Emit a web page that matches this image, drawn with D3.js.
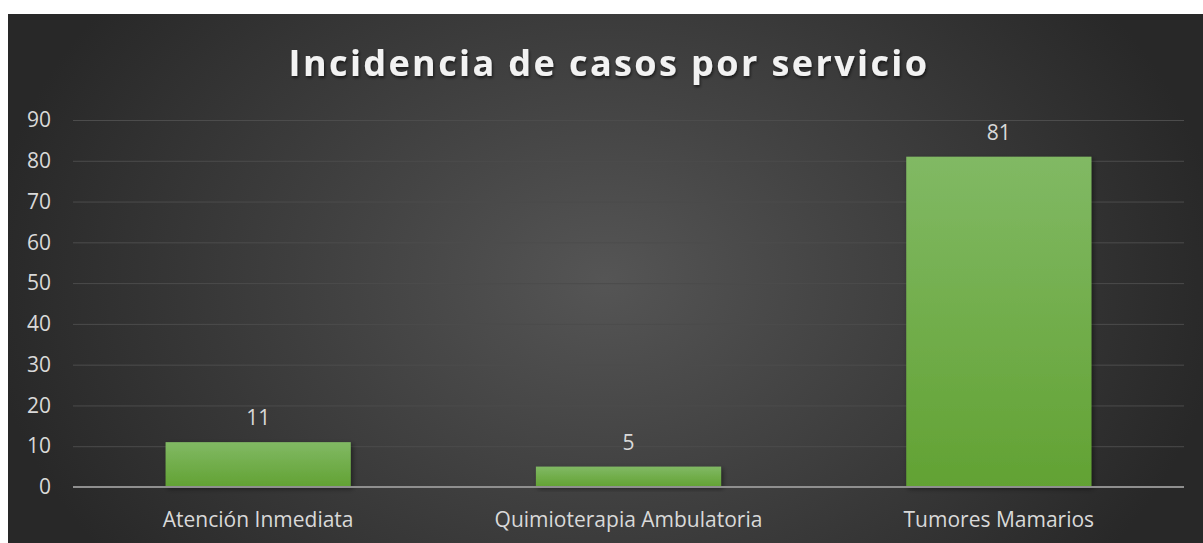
<!DOCTYPE html>
<html><head><meta charset="utf-8">
<script src="https://cdn.jsdelivr.net/npm/d3@7/dist/d3.min.js"></script>
<style>body{margin:0;background:#fff;}svg{display:block;}</style>
</head><body>
<svg id="c" width="1203" height="543"></svg>
<script>
const categories = ["Atención Inmediata", "Quimioterapia Ambulatoria", "Tumores Mamarios"];
const values = [11, 5, 81];
const yTicks = [0, 10, 20, 30, 40, 50, 60, 70, 80, 90];
const title = "Incidencia de casos por servicio";

(function(){
const svg = d3.select("#c");
const defs = svg.append("defs");
const bg = defs.append("radialGradient").attr("id","bg").attr("gradientUnits","userSpaceOnUse")
  .attr("cx",605).attr("cy",280).attr("r",620).attr("gradientTransform","translate(605,280) scale(1,0.75) translate(-605,-280)");
bg.append("stop").attr("offset","0%").attr("stop-color","#555555");
bg.append("stop").attr("offset","100%").attr("stop-color","#282828");
const bar = defs.append("linearGradient").attr("id","bar").attr("x1",0).attr("y1",0).attr("x2",0).attr("y2",1);
bar.append("stop").attr("offset","0%").attr("stop-color","#81b964");
bar.append("stop").attr("offset","100%").attr("stop-color","#62a233");
const sh = defs.append("filter").attr("id","sh").attr("x","-20%").attr("y","-20%").attr("width","140%").attr("height","140%");
sh.append("feDropShadow").attr("dx",2).attr("dy",2).attr("stdDeviation",2.5).attr("flood-color","#000").attr("flood-opacity",0.45);
const tsh = defs.append("filter").attr("id","tsh").attr("x","-10%").attr("y","-30%").attr("width","120%").attr("height","160%");
tsh.append("feDropShadow").attr("dx",1).attr("dy",2).attr("stdDeviation",1.5).attr("flood-color","#000").attr("flood-opacity",0.6);

svg.append("rect").attr("x",8).attr("y",14).attr("width",1195).attr("height",529).attr("fill","url(#bg)");

const pL = 73, pR = 1184, pT = 120, pB = 487;
const x = d3.scaleBand().domain(categories).range([pL,pR]).paddingInner(0.5).paddingOuter(0.25);
const y = d3.scaleLinear().domain([0,90]).range([pB,pT]);

const font = "'Open Sans', sans-serif";
const fs = "21px";

svg.append("g").selectAll("line").data(yTicks.filter(d=>d>0)).join("line")
  .attr("x1",pL).attr("x2",pR).attr("y1",d=>y(d)+0.5).attr("y2",d=>y(d)+0.5)
  .attr("stroke","#4c4c4c").attr("stroke-width",1);

const ya = svg.append("g").attr("transform",`translate(${pL-22},0)`)
  .call(d3.axisLeft(y).tickValues(yTicks).tickSize(0).tickPadding(0));
ya.select(".domain").remove();
ya.selectAll("text").attr("fill","#d9d9d9").style("font-family",font).style("font-size",fs);

svg.append("g").selectAll("rect").data(values).join("rect")
  .attr("x",(d,i)=>x(categories[i])).attr("width",x.bandwidth())
  .attr("y",d=>y(d)).attr("height",d=>pB-y(d))
  .attr("fill","url(#bar)").attr("filter","url(#sh)");

svg.append("line").attr("x1",pL).attr("x2",pR).attr("y1",pB).attr("y2",pB)
  .attr("stroke","#8f8f8f").attr("stroke-width",2);

const xa = svg.append("g").attr("transform",`translate(0,${pB+25})`)
  .call(d3.axisBottom(x).tickSize(0).tickPadding(0));
xa.select(".domain").remove();
xa.selectAll("text").attr("fill","#d9d9d9").style("font-family",font).style("font-size",fs).attr("y",0).attr("dy","0.71em");

svg.append("g").selectAll("text").data(values).join("text")
  .attr("x",(d,i)=>x(categories[i])+x.bandwidth()/2).attr("y",d=>y(d)-17)
  .attr("text-anchor","middle").attr("fill","#d9d9d9").style("font-family",font).style("font-size",fs)
  .text(d=>d);

svg.append("text").attr("x",609).attr("y",76).attr("text-anchor","middle")
  .attr("fill","#f2f2f2").style("font-family",font).style("font-size","36px").style("font-weight","bold")
  .style("letter-spacing","2.4px").attr("filter","url(#tsh)").text(title);
})();
</script>
</body></html>
